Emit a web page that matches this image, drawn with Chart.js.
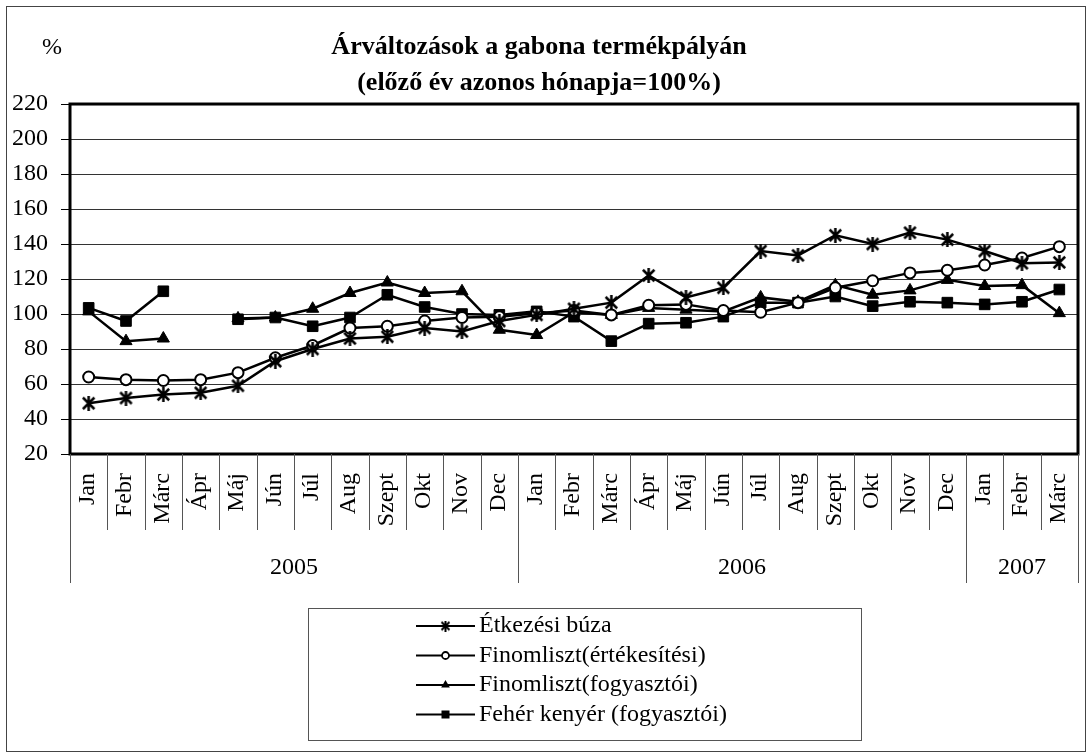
<!DOCTYPE html>
<html>
<head>
<meta charset="utf-8">
<script src="https://cdn.jsdelivr.net/npm/chart.js@4.4.0/dist/chart.umd.min.js"></script>
<style>
html, body { margin: 0; padding: 0; background: #fff; }
canvas { display: block; }
</style>
</head>
<body>
<canvas id="arChart" width="1087" height="753"></canvas>
<script>
var honapok = ['Jan', 'Febr', 'Márc', 'Ápr', 'Máj', 'Jún', 'Júl', 'Aug', 'Szept', 'Okt', 'Nov', 'Dec',
	'Jan', 'Febr', 'Márc', 'Ápr', 'Máj', 'Jún', 'Júl', 'Aug', 'Szept', 'Okt', 'Nov', 'Dec',
	'Jan', 'Febr', 'Márc'];
var evek = ['2005', '2006', '2007'];
var evHonapDb = [12, 12, 3];

var yMin = 20, yMax = 220, yLepes = 20;

var sorozatNevek = ['Étkezési búza', 'Finomliszt(értékesítési)', 'Finomliszt(fogyasztói)', 'Fehér kenyér (fogyasztói)'];

var buza = [49, 52, 54, 55, 59, 73, 80, 86, 87, 92, 90, 96,
	99.5, 103, 106.5, 122, 109.5, 115, 136, 133.5, 145, 140, 146.5, 142.5,
	136, 129, 129.5];
var finomErt = [64, 62.5, 62, 62.5, 66.5, 75, 82, 92, 93, 96, 98, 98.5,
	100.5, 102, 99.5, 105, 105.5, 102, 101, 106.5, 115, 119, 123.5, 125,
	128, 132, 138.5];
var finomFogy = [101.5, 84.5, 86, null, 97.5, 98, 103, 112, 118, 112, 113, 91,
	88, 101, 99.5, 103.5, 102.5, 101.5, 109.5, 107, 116.5, 111, 113.5, 119.5,
	116, 116.5, 100.5];
var kenyer = [103.5, 96, 113, null, 97, 98, 93, 98, 111, 104, 100, 99.5,
	101.5, 98.5, 84.5, 94.5, 95, 98.5, 106.5, 106.5, 110, 104.5, 107, 106.5,
	105.5, 107, 114];

var BETU = '"Liberation Serif", "Times New Roman", serif';

// Excel-like asterisk marker: an X plus a vertical stroke
function csillag(meret, vonal) {
	var c = document.createElement('canvas');
	c.width = meret; c.height = meret;
	var g = c.getContext('2d');
	g.strokeStyle = '#000';
	g.lineWidth = vonal;
	var a = vonal / 2 + 0.5, b = meret - vonal / 2 - 0.5;
	g.beginPath();
	g.moveTo(a, a); g.lineTo(b, b);
	g.moveTo(b, a); g.lineTo(a, b);
	g.moveTo(meret / 2, 0); g.lineTo(meret / 2, meret);
	g.stroke();
	return c;
}
var csillagNagy = csillag(15, 2.5);
var csillagKicsi = csillag(11, 2);

function jel(ctx, tipus, x, y, kicsi) {
	ctx.save();
	ctx.fillStyle = '#000';
	ctx.strokeStyle = '#000';
	if (tipus === 'star') {
		var k = kicsi ? csillagKicsi : csillagNagy;
		ctx.drawImage(k, x - k.width / 2, y - k.height / 2);
	} else if (tipus === 'circle') {
		ctx.lineWidth = 1.8;
		ctx.fillStyle = '#fff';
		ctx.beginPath(); ctx.arc(x, y, kicsi ? 3.5 : 5.5, 0, Math.PI * 2);
		ctx.fill(); ctx.stroke();
	} else if (tipus === 'triangle') {
		var r = kicsi ? 5 : 7;
		ctx.beginPath();
		ctx.moveTo(x, y - r);
		ctx.lineTo(x + r * 0.866, y + r * 0.5);
		ctx.lineTo(x - r * 0.866, y + r * 0.5);
		ctx.closePath(); ctx.fill();
	} else {
		var s = kicsi ? 4 : 5.5;
		ctx.fillRect(x - s, y - s, 2 * s, 2 * s);
	}
	ctx.restore();
}

var jelTipusok = ['star', 'circle', 'triangle', 'rect'];

var keretPlugin = {
	id: 'keretPlugin',
	beforeDatasetsDraw: function(chart) {
		var ctx = chart.ctx, a = chart.chartArea;
		ctx.save();
		ctx.strokeStyle = '#000';
		ctx.lineWidth = 3;
		ctx.strokeRect(a.left, a.top, a.right - a.left, a.bottom - a.top);
		ctx.restore();
	},
	afterDraw: function(chart) {
		var ctx = chart.ctx, a = chart.chartArea, xs = chart.scales.x;
		var w = xs.getPixelForValue(1) - xs.getPixelForValue(0);
		ctx.save();
		ctx.fillStyle = '#000';

		// "%" unit label
		ctx.font = '24px ' + BETU;
		ctx.textAlign = 'center';
		ctx.textBaseline = 'middle';
		ctx.fillText('%', 52, 48);

		// month labels, rotated
		honapok.forEach(function(h, i) {
			var px = xs.getPixelForValue(i);
			ctx.save();
			ctx.translate(px - 1, a.bottom + 19);
			ctx.rotate(-Math.PI / 2);
			ctx.textAlign = 'right';
			ctx.textBaseline = 'middle';
			ctx.fillText(h, 0, 0);
			ctx.restore();
		});

		// category separators
		ctx.strokeStyle = '#555';
		ctx.lineWidth = 1;
		ctx.beginPath();
		for (var i = 1; i < honapok.length; i++) {
			var sx = Math.round(xs.getPixelForValue(i) - w / 2) + 0.5;
			ctx.moveTo(sx, a.bottom);
			ctx.lineTo(sx, a.bottom + 76);
		}
		ctx.stroke();

		// year separators and labels
		var kezd = 0;
		var hatarok = [0];
		evHonapDb.forEach(function(db) { kezd += db; hatarok.push(kezd); });
		ctx.beginPath();
		hatarok.forEach(function(hi) {
			var sx = Math.round(xs.getPixelForValue(hi) - w / 2) + 0.5;
			ctx.moveTo(sx, a.bottom);
			ctx.lineTo(sx, a.bottom + 129);
		});
		ctx.stroke();
		ctx.textAlign = 'center';
		ctx.textBaseline = 'middle';
		evek.forEach(function(ev, j) {
			var x1 = xs.getPixelForValue(hatarok[j]) - w / 2;
			var x2 = xs.getPixelForValue(hatarok[j + 1]) - w / 2;
			ctx.fillText(ev, (x1 + x2) / 2, a.bottom + 114);
		});

		// legend box
		ctx.strokeStyle = '#555';
		ctx.strokeRect(308.5, 608.5, 553, 132);
		ctx.textAlign = 'left';
		sorozatNevek.forEach(function(nev, k) {
			var ry = 626 + k * 29.5;
			ctx.strokeStyle = '#000';
			ctx.lineWidth = 2.2;
			ctx.beginPath();
			ctx.moveTo(416, ry); ctx.lineTo(475, ry);
			ctx.stroke();
			jel(ctx, jelTipusok[k], 445.5, ry, true);
			ctx.fillStyle = '#000';
			ctx.fillText(nev, 479, ry);
		});

		// outer frame
		ctx.strokeStyle = '#444';
		ctx.lineWidth = 1;
		ctx.strokeRect(6.5, 6.5, 1079, 745);
		ctx.restore();
	}
};

function sorozat(cimke, adat, stilus, extra) {
	var d = {
		label: cimke,
		data: adat,
		borderColor: '#000',
		backgroundColor: '#000',
		borderWidth: 2.5,
		pointStyle: stilus,
		pointBorderColor: '#000',
		pointBackgroundColor: '#000',
		pointBorderWidth: 1,
		tension: 0,
		spanGaps: false
	};
	for (var k in extra) d[k] = extra[k];
	return d;
}

new Chart(document.getElementById('arChart').getContext('2d'), {
	type: 'line',
	data: {
		labels: honapok,
		datasets: [
			sorozat(sorozatNevek[0], buza, csillagNagy, { pointRadius: 7 }),
			sorozat(sorozatNevek[1], finomErt, 'circle', { pointRadius: 5.5, pointBackgroundColor: '#fff', pointBorderWidth: 2 }),
			sorozat(sorozatNevek[2], finomFogy, 'triangle', { pointRadius: 7 }),
			sorozat(sorozatNevek[3], kenyer, 'rect', { pointRadius: 7.5 })
		]
	},
	options: {
		responsive: false,
		animation: false,
		layout: { padding: { left: 0, right: 9, top: 0, bottom: 299 } },
		plugins: {
			legend: { display: false },
			tooltip: { enabled: false },
			title: {
				display: true,
				text: ['Árváltozások a gabona termékpályán', '(előző év azonos hónapja=100%)'],
				color: '#000',
				font: { family: BETU, size: 26, weight: 'bold', lineHeight: 1.385 },
				padding: { top: 29, bottom: 3 }
			}
		},
		scales: {
			x: {
				offset: true,
				ticks: { display: false },
				grid: { display: false },
				border: { display: false },
				afterFit: function(s) { s.height = 0; }
			},
			y: {
				min: yMin,
				max: yMax,
				ticks: {
					stepSize: yLepes,
					color: '#000',
					padding: 13,
					font: { family: BETU, size: 24 }
				},
				grid: { color: '#333', lineWidth: 1, tickLength: 9, tickColor: '#000' },
				border: { display: false },
				afterFit: function(s) { s.width = 70; }
			}
		}
	},
	plugins: [keretPlugin]
});
</script>
</body>
</html>
